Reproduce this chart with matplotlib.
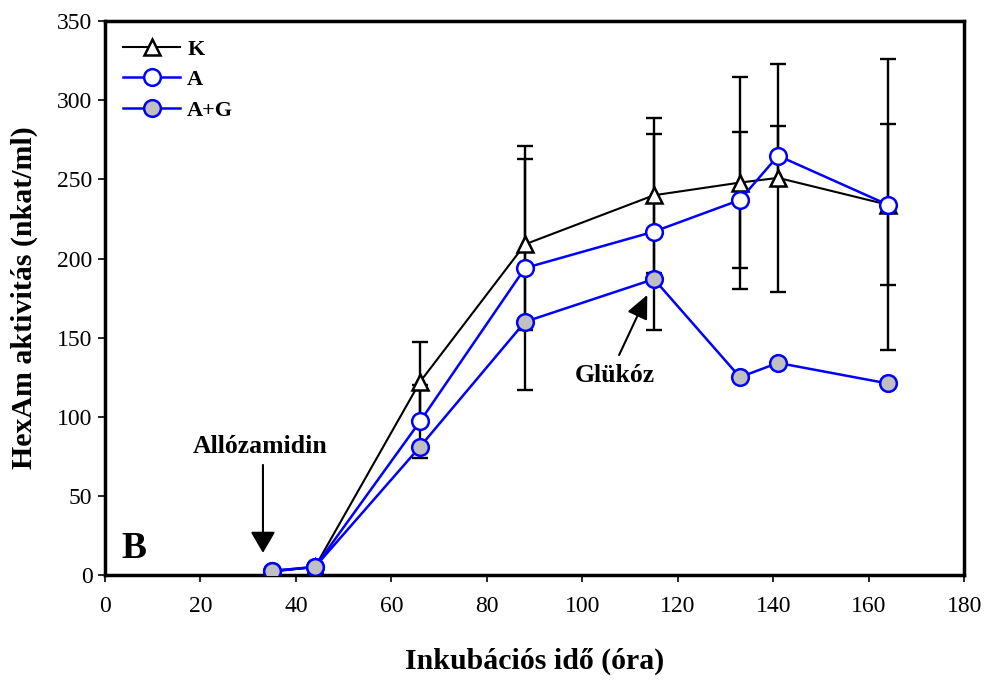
import numpy as np
import matplotlib
matplotlib.use('Agg')
import matplotlib.pyplot as plt

# incubation time (h)
hours = [35, 44, 66, 88, 115, 133, 141, 164]

# HexAm activity (nkat/ml)
k_vals = [2, 5, 122, 209, 240, 248, 251, 234]
k_err = [2, 2, 25, 54, 49, 67, 72, 92]
a_vals = [2.5, 5, 97, 194, 217, 237, 265, 234]
a_err = [2, 2, 23, 77, 62, 43, 19, 51]
ag_vals = [2.5, 5, 81, 160, 187, 125, 134, 121]

plt.rcParams['font.family'] = ['Liberation Serif', 'DejaVu Serif']

fig = plt.figure(figsize=(9.9, 6.86), dpi=100)
ax = fig.add_axes([0.106, 0.162, 0.868, 0.807])

# error bars (black, behind markers)
ax.errorbar(hours, k_vals, yerr=k_err, fmt='none', ecolor='black',
            elinewidth=1.7, capsize=6, capthick=1.7, zorder=1)
ax.errorbar(hours, a_vals, yerr=a_err, fmt='none', ecolor='black',
            elinewidth=1.7, capsize=6, capthick=1.7, zorder=1)

ax.plot(hours, k_vals, color='black', lw=1.5, marker='^', ms=11,
        mfc='white', mec='black', mew=1.8, label='K', zorder=3)
ax.plot(hours, a_vals, color='#0000ff', lw=1.8, marker='o', ms=12,
        mfc='white', mec='#0000ff', mew=1.8, label='A', zorder=4)
ax.plot(hours, ag_vals, color='#0000ff', lw=1.8, marker='o', ms=12,
        mfc='#c0c0c0', mec='#0000ff', mew=1.8, label='A+G', zorder=5)

ax.set_xlim(0, 180)
ax.set_ylim(0, 350)
ax.set_xticks(np.arange(0, 181, 20))
ax.set_yticks(np.arange(0, 351, 50))
ax.tick_params(direction='out', length=5, width=1.2, labelsize=17, pad=4)
ax.tick_params(axis='x', pad=10)
for s in ax.spines.values():
    s.set_linewidth(2.5)

ax.set_xlabel('Inkubációs idő (óra)', fontsize=21.5, fontweight='bold', labelpad=22)
ax.set_ylabel('HexAm aktivitás (nkat/ml)', fontsize=21.5, fontweight='bold')
ax.yaxis.set_label_coords(-0.078, 0.5)

leg = ax.legend(loc='upper left', frameon=False, prop={'weight': 'bold', 'size': 16},
                handlelength=2.6, borderaxespad=0.4, labelspacing=0.45, handletextpad=0.3)

ax.text(3.4, 10.7, 'B', fontsize=27, fontweight='bold', ha='left', va='baseline')

# annotations
ax.text(32.5, 81, 'Allózamidin', ha='center', va='center', fontsize=18.5, fontweight='bold')
ax.annotate('', xy=(33.1, 13.9), xytext=(33.1, 69.5),
            arrowprops=dict(arrowstyle='-|>,head_width=0.38,head_length=0.65',
                            mutation_scale=20, color='black', lw=1.5,
                            shrinkA=0, shrinkB=0))
ax.text(106.9, 126, 'Glükóz', ha='center', va='center', fontsize=18.5, fontweight='bold')
ax.annotate('', xy=(113.6, 177), xytext=(107.7, 139),
            arrowprops=dict(arrowstyle='-|>,head_width=0.33,head_length=0.72',
                            mutation_scale=20, color='black', lw=1.5,
                            shrinkA=0, shrinkB=0))

fig.savefig('out.png', dpi=100)
